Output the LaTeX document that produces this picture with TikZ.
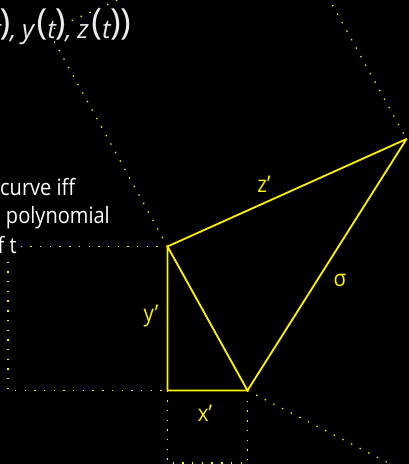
\documentclass[tikz,border=0pt]{standalone}
\usepackage{fontspec}
\setmainfont{Open Sans}[FakeStretch=0.89]
\newfontfamily\parenfont{Open Sans}
\usetikzlibrary{calc}
\newcommand\tpar[1]{\raisebox{3.6pt}{\parenfont\fontsize{36}{40}\selectfont #1}}
\newcommand\tlet[1]{{\parenfont\fontsize{26}{30}\selectfont\itshape #1}}
\begin{document}
\begin{tikzpicture}[x=1pt,y=-1pt,
  tri/.style={draw=yellow,line width=1.8pt,line join=round},
  dots/.style={draw=yellow,line width=1.2pt,dash pattern=on 1.4pt off 8.3pt},
  lab/.style={text=yellow,font=\fontsize{23}{27}\selectfont,inner sep=0pt},
  txt/.style={text=white,font=\fontsize{22.5}{29}\selectfont,inner sep=0pt}]
\useasboundingbox (0,0) rectangle (409,464);
\fill[black] (0,0) rectangle (409,464);
\clip (0,0) rectangle (409,464);
% vertices
\coordinate (A) at (167.5,246.5);
\coordinate (B) at (167.5,390.5);
\coordinate (C) at (247.5,390.5);
\coordinate (D) at (406.5,139);
% auxiliary corners
\coordinate (L1) at (8,246.5);
\coordinate (L2) at (8,390.5);
\coordinate (S1) at (167.5,463);
\coordinate (S2) at (247.5,463);
\coordinate (P1) at ($(A)+(-119,-215.5)$);
\coordinate (P2) at ($(D)+(-119,-215.5)$);
\coordinate (Q) at ($(C)+(272,140)$);
% dotted constructions
\draw[dots] (A) -- (L1) -- (L2) -- (B);
\draw[dots] (B) -- (S1) -- (S2) -- (C);
\draw[dots] (C) -- (Q);
\draw[dots] (A) -- (P1) -- (P2) -- (D);
% triangle
\draw[tri] (A) -- (B) -- (C) -- cycle;
\draw[tri] (A) -- (D) -- (C);
% labels
\node[lab] (zl) at (264,184) {z’};
\node[lab] (sl) at (340,280) {σ};
\node[lab] (yl) at (151,316) {y’};
\node[lab] (xl) at (205,413) {x’};
% texts
\node[text=white!92!black,inner sep=0pt,anchor=base east] (top) at (131,38)
  {\tpar(\tlet{x}\kern2.5pt\tpar(\tlet{t}\kern-1.5pt\tpar)\tlet{,}\kern5.5pt\tlet{y}\kern2.5pt\tpar(\tlet{t}\kern-1pt\tpar)\tlet{,}\kern5.5pt\tlet{z}\kern2.5pt\tpar(\tlet{t}\kern-0.5pt\tpar)\kern-0.7pt\tpar)};
\node[txt,anchor=base west] (l1) at (0,195) {curve iff};
\node[txt,anchor=base east] (l2) at (110,223) {polynomial};
\node[txt,anchor=base east,fill=black,inner sep=1pt] (l3) at (18,253) {of t};
\end{tikzpicture}
\end{document}
